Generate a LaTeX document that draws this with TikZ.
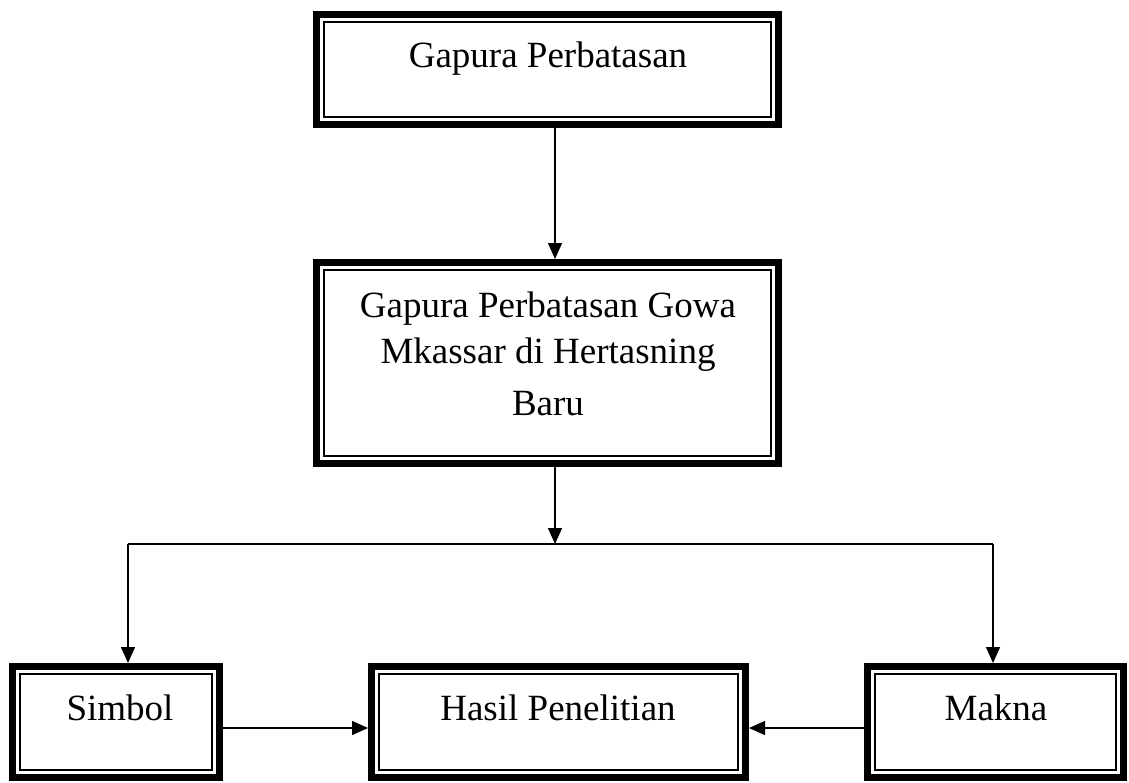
\documentclass[tikz,border=0pt]{standalone}
\usepackage{fontspec}
\setmainfont{Liberation Serif}
\usetikzlibrary{arrows.meta}
\begin{document}
\begin{tikzpicture}[x=1pt,y=-1pt,
  box/.style={draw=black, line width=7pt, inner sep=0pt, outer sep=0pt, rectangle},
  innerline/.style={draw=black, line width=2.3pt},
  lbl/.style={anchor=base, inner sep=0pt, font=\fontsize{37}{50}\selectfont},
  arr/.style={draw=black, line width=1.4pt, -{Triangle[width=14pt,length=16pt]}},
  conn/.style={draw=black, line width=1.4pt}]
\useasboundingbox (0,0) rectangle (1129,782);
% boxes
\node[box, minimum width=462pt, minimum height=110pt] (b1) at (547.5,69.5) {};
\node[box, minimum width=462pt, minimum height=201pt] (b2) at (547.5,363) {};
\node[box, minimum width=207pt, minimum height=111pt] (simbol) at (116,722) {};
\node[box, minimum width=374pt, minimum height=111pt] (hasil) at (558.5,722) {};
\node[box, minimum width=256pt, minimum height=111pt] (makna) at (995.5,722) {};
% inner thin lines
\foreach \n in {b1,b2,simbol,hasil,makna}{
  \draw[innerline] ([shift={(7.2pt,-7.2pt)}]\n.north west) rectangle ([shift={(-7.2pt,7.2pt)}]\n.south east);
}
% texts
\node[lbl] (t1) at (548,67) {Gapura Perbatasan};
\node[lbl] (t2a) at (548,317) {Gapura Perbatasan Gowa};
\node[lbl] (t2b) at (548,363) {Mkassar di Hertasning};
\node[lbl] (t2c) at (548,415) {Baru};
\node[lbl] (t3) at (120,720) {Simbol};
\node[lbl] (t4) at (558,720) {Hasil Penelitian};
\node[lbl] (t5) at (996,720) {Makna};
% connector coordinates
\coordinate (cx) at (555,0);
\coordinate (jm) at (555,544);
\coordinate (jl) at (128,544);
\coordinate (jr) at (993,544);
\coordinate (ay) at (0,728);
% connectors
\draw[arr, shorten >=3.5pt] (b1.south -| cx) -- (b2.north -| cx);
\draw[arr] (b2.south -| cx) -- (jm);
\draw[conn] (jl) -- (jr);
\draw[arr, shorten >=3.5pt] (jl) -- (simbol.north -| jl);
\draw[arr, shorten >=3.5pt] (jr) -- (makna.north -| jr);
\draw[arr, shorten >=3.5pt] (simbol.east |- ay) -- (hasil.west |- ay);
\draw[arr, shorten >=3.5pt] (makna.west |- ay) -- (hasil.east |- ay);
\end{tikzpicture}
\end{document}
